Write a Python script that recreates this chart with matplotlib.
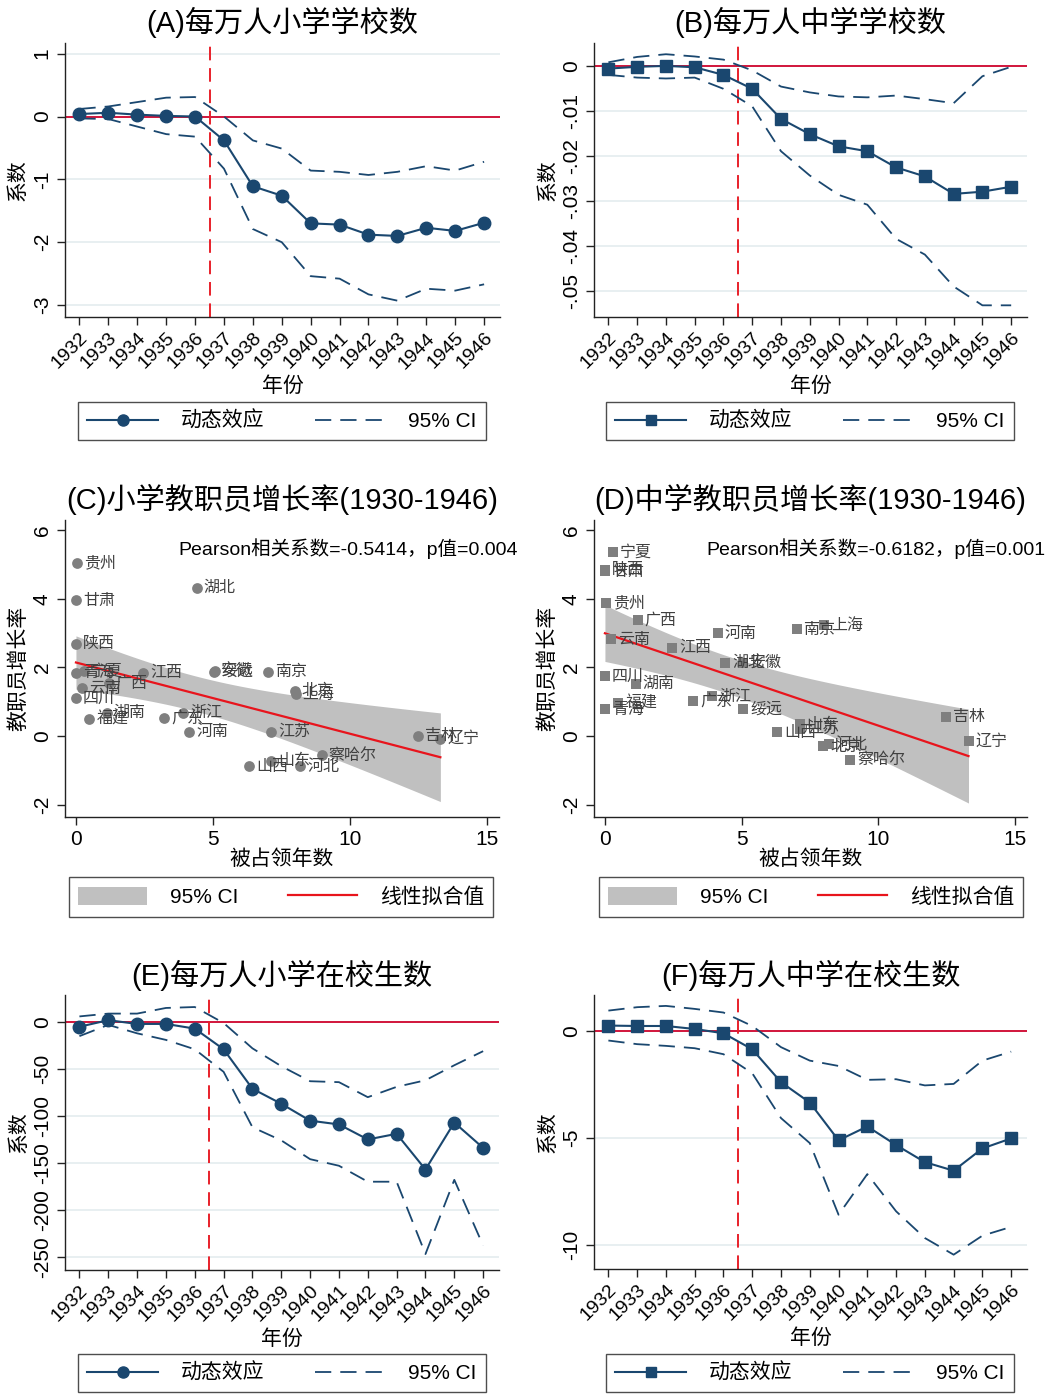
import numpy as np
import matplotlib
matplotlib.use('Agg')
import matplotlib.pyplot as plt
from matplotlib.lines import Line2D
from matplotlib.patches import Patch

plt.rcParams['font.family'] = ['Liberation Sans', 'Noto Sans CJK SC', 'DejaVu Sans']

# ---------------- data ----------------
years = list(range(1932, 1947))

a_coef = [0.04, 0.06, 0.03, 0.01, 0.0, -0.38, -1.11, -1.26, -1.70, -1.72, -1.88, -1.90, -1.77, -1.82, -1.69]
a_hi = [0.12, 0.16, 0.23, 0.30, 0.31, 0.0, -0.38, -0.51, -0.86, -0.88, -0.93, -0.88, -0.79, -0.86, -0.72]
a_lo = [-0.03, -0.04, -0.16, -0.28, -0.32, -0.83, -1.79, -2.00, -2.54, -2.58, -2.83, -2.93, -2.74, -2.77, -2.67]

b_coef = [-0.0005, -0.0001, 0.0001, -0.0002, -0.0019, -0.0050, -0.0117, -0.0151, -0.0178, -0.0189, -0.0225, -0.0245, -0.0284, -0.0279, -0.0268]
b_hi = [0.0009, 0.0021, 0.0027, 0.0022, 0.0015, -0.0009, -0.0045, -0.0058, -0.0067, -0.0069, -0.0065, -0.0073, -0.0082, -0.0022, -0.0001]
b_lo = [-0.0019, -0.0025, -0.0027, -0.0025, -0.0050, -0.0089, -0.0189, -0.0243, -0.0286, -0.0308, -0.0384, -0.0419, -0.0490, -0.0532, -0.0532]

e_coef = [-5, 2, -2, -2, -7, -29, -71, -87, -105, -109, -125, -119, -157, -107, -134]
e_hi = [6, 9, 9, 15, 16, -1, -28, -47, -63, -64, -80, -69, -62, -46, -31]
e_lo = [-15, -3, -12, -19, -29, -53, -112, -126, -146, -153, -170, -170, -247, -168, -238]

f_coef = [0.25, 0.23, 0.23, 0.09, -0.11, -0.86, -2.40, -3.35, -5.12, -4.47, -5.34, -6.14, -6.54, -5.50, -5.03]
f_hi = [0.95, 1.11, 1.17, 1.03, 0.86, 0.23, -0.76, -1.39, -1.64, -2.29, -2.26, -2.55, -2.48, -1.39, -0.97]
f_lo = [-0.45, -0.62, -0.70, -0.81, -1.09, -1.98, -4.08, -5.25, -8.60, -6.70, -8.44, -9.69, -10.47, -9.58, -9.17]

provinces = ['贵州', '甘肃', '湖北', '陕西', '宁夏', '青海', '云南', '广西', '四川', '福建', '湖南',
             '江西', '广东', '浙江', '河南', '绥远', '安徽', '南京', '北京', '上海', '江苏', '察哈尔',
             '山西', '山东', '河北', '吉林', '辽宁']
occ_years = [0.05, 0.0, 4.4, 0.0, 0.3, 0.0, 0.22, 1.2, 0.0, 0.49, 1.12,
             2.46, 3.23, 3.92, 4.13, 5.06, 5.05, 7.01, 7.98, 8.02, 7.13, 8.97,
             6.31, 7.12, 8.18, 12.49, 13.3]
c_growth = [5.04, 3.95, 4.32, 2.69, 1.90, 1.85, 1.39, 1.55, 1.10, 0.51, 0.68,
            1.85, 0.54, 0.68, 0.13, 1.90, 1.88, 1.87, 1.32, 1.22, 0.13, -0.55,
            -0.87, -0.72, -0.87, 0.01, -0.07]
d_growth = [3.89, 4.80, 2.14, 4.85, 5.36, 0.78, 2.82, 3.37, 1.75, 0.97, 1.53,
            2.57, 1.02, 1.17, 2.99, 0.78, 2.12, 3.11, -0.29, 3.23, 0.22, -0.68,
            0.11, 0.35, -0.24, 0.56, -0.15]

titles = ['(A)每万人小学学校数', '(B)每万人中学学校数', '(C)小学教职员增长率(1930-1946)',
          '(D)中学教职员增长率(1930-1946)', '(E)每万人小学在校生数', '(F)每万人中学在校生数']
c_text = 'Pearson相关系数=-0.5414，p值=0.004'
d_text = 'Pearson相关系数=-0.6182，p值=0.001'

# ---------------- style ----------------
W, H = 1054, 1394
fig = plt.figure(figsize=(W / 100, H / 100), dpi=100)
navy = '#1a476f'
grid_c = '#e4ecef'
zero_red = '#d2163c'
vred = '#e8202a'


def rect(l, t, r, b):
    return [l / W, 1 - b / H, (r - l) / W, (b - t) / H]


def style_axes(ax):
    for s in ['top', 'right']:
        ax.spines[s].set_visible(False)
    for s in ['left', 'bottom']:
        ax.spines[s].set_linewidth(1.0)
        ax.spines[s].set_color('#222222')
    ax.tick_params(direction='out', length=6, width=1, color='#222222', labelsize=15)


def legend_at(ax, handles, labels, cx, cy, **kw):
    leg = ax.legend(handles, labels, loc='center', bbox_to_anchor=(cx / W, 1 - cy / H),
                    bbox_transform=fig.transFigure, ncol=2, frameon=True, fancybox=False,
                    edgecolor='#222222', fontsize=15, borderpad=0.45, borderaxespad=0, **kw)
    leg.get_frame().set_linewidth(1.0)
    return leg


def event_panel(pos, title, coef, lo, hi, marker, ms, ylim, yticks, yticklabels, legc, title_y):
    ax = fig.add_axes(rect(*pos))
    style_axes(ax)
    ax.set_xlim(1931.5, 1946.55)
    ax.set_ylim(*ylim)
    for yt in yticks:
        ax.axhline(yt, color=grid_c, lw=1.2, zorder=0)
    ax.axhline(0, color=zero_red, lw=1.4, zorder=1)
    ax.axvline(1936.5, color=vred, lw=1.4, dashes=(7, 4), zorder=1)
    ax.plot(years, hi, color=navy, lw=1.3, dashes=(9, 5), zorder=2)
    ax.plot(years, lo, color=navy, lw=1.3, dashes=(9, 5), zorder=2)
    ax.plot(years, coef, color=navy, lw=1.5, marker=marker, ms=ms, zorder=3)
    ax.set_xticks(years)
    ax.set_xticklabels([str(y) for y in years], rotation=45, ha='right',
                       rotation_mode='anchor', fontsize=14)
    ax.tick_params(axis='x', pad=3)
    ax.set_yticks(yticks)
    ax.set_yticklabels(yticklabels, rotation=90, va='center')
    ax.set_ylabel('系数', fontsize=15)
    ax.yaxis.set_label_coords(-0.085, 0.5)
    ax.set_xlabel('年份', fontsize=15)
    ax.xaxis.set_label_coords(0.5, -0.215)
    l, t, r, b = pos
    fig.text(((l + r) / 2) / W, 1 - title_y / H, title, fontsize=21, ha='center', va='center')
    handles = [Line2D([], [], color=navy, lw=1.5, marker=marker, ms=ms - 1),
               Line2D([], [], color=navy, lw=1.3, dashes=(9, 5))]
    legend_at(ax, handles, ['动态效应', '95% CI'], legc[0], legc[1],
              handlelength=3.4, handletextpad=1.1, columnspacing=2.4)
    return ax


def scatter_panel(pos, title, xv, yv, marker, ms_s, txt, legc, title_y):
    ax = fig.add_axes(rect(*pos))
    style_axes(ax)
    ax.set_xlim(-0.4, 15.44)
    ax.set_ylim(-2.35, 6.29)
    x = np.array(xv)
    y = np.array(yv)
    n = len(x)
    slope, inter = np.polyfit(x, y, 1)
    resid = y - (slope * x + inter)
    s = np.sqrt(np.sum(resid ** 2) / (n - 2))
    sxx = np.sum((x - x.mean()) ** 2)
    x0 = np.linspace(x.min(), x.max(), 200)
    yhat = slope * x0 + inter
    se = s * np.sqrt(1 / n + (x0 - x.mean()) ** 2 / sxx)
    tcrit = 2.0595
    ax.fill_between(x0, yhat - tcrit * se, yhat + tcrit * se, color='#c0c0c0', lw=0, zorder=1)
    ax.plot(x0, yhat, color='#e8141c', lw=1.6, zorder=2)
    ax.scatter(x, y, marker=marker, s=ms_s, color='#7f7f7f', zorder=3, linewidths=0)
    for name, xi, yi in zip(provinces, x, y):
        ax.annotate(name, (xi, yi), xytext=(5, 0), textcoords='offset points',
                    va='center', ha='left', fontsize=11.5, color='#404040', zorder=4)
    ax.text(3.72, 5.47, txt, fontsize=14, va='center', ha='left', clip_on=False)
    ax.set_xticks([0, 5, 10, 15])
    ax.set_yticks([6, 4, 2, 0, -2])
    ax.set_yticklabels(['6', '4', '2', '0', '-2'], rotation=90, va='center')
    ax.set_ylabel('教职员增长率', fontsize=15)
    ax.yaxis.set_label_coords(-0.085, 0.5)
    ax.set_xlabel('被占领年数', fontsize=15)
    ax.xaxis.set_label_coords(0.5, -0.11)
    l, t, r, b = pos
    fig.text(((l + r) / 2) / W, 1 - title_y / H, title, fontsize=21, ha='center', va='center')
    handles = [Patch(facecolor='#c0c0c0', edgecolor='none'),
               Line2D([], [], color='#e8141c', lw=1.6)]
    legend_at(ax, handles, ['95% CI', '线性拟合值'], legc[0], legc[1],
              handlelength=3.3, handleheight=1.0, handletextpad=1.1, columnspacing=2.4)
    return ax


event_panel((65, 43, 500, 317), titles[0], a_coef, a_lo, a_hi, 'o', 9,
            (-3.19, 1.17), [1, 0, -1, -2, -3], ['1', '0', '-1', '-2', '-3'], (282, 421), 22)
event_panel((594, 43, 1027, 317), titles[1], b_coef, b_lo, b_hi, 's', 8.5,
            (-0.0558, 0.0052), [0, -0.01, -0.02, -0.03, -0.04, -0.05],
            ['0', '-.01', '-.02', '-.03', '-.04', '-.05'], (810, 421), 22)

scatter_panel((65, 520, 499, 817), titles[2], occ_years, c_growth, 'o', 60, c_text, (281, 897), 499)
scatter_panel((594, 520, 1027, 817), titles[3], occ_years, d_growth, 's', 55, d_text, (811, 897), 499)

event_panel((65, 995, 499, 1270), titles[4], e_coef, e_lo, e_hi, 'o', 9,
            (-264, 28.8), [0, -50, -100, -150, -200, -250],
            ['0', '-50', '-100', '-150', '-200', '-250'], (282, 1373), 975)
event_panel((594, 995, 1027, 1269), titles[5], f_coef, f_lo, f_hi, 's', 8.5,
            (-11.14, 1.68), [0, -5, -10], ['0', '-5', '-10'], (810, 1373), 975)

fig.savefig('out.png', dpi=100)
